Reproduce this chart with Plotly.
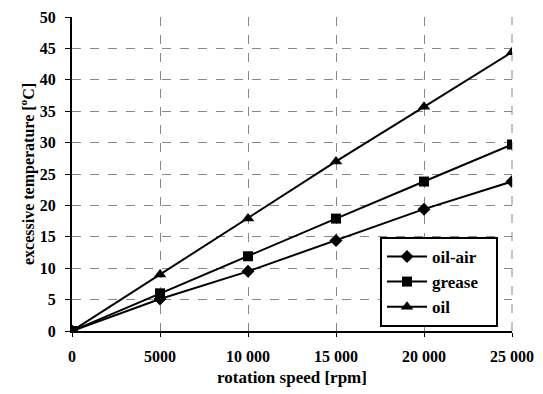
import plotly.graph_objects as go

speed = [0, 5000, 10000, 15000, 20000, 25000]
oil_air = [0, 5.1, 9.5, 14.4, 19.4, 23.8]
grease = [0, 6.0, 11.9, 17.9, 23.8, 29.7]
oil = [0, 9.0, 17.9, 27.0, 35.7, 44.4]
x_ticks = [0, 5000, 10000, 15000, 20000, 25000]
x_ticklabels = ["0", "5000", "10 000", "15 000", "20 000", "25 000"]
y_ticks = [0, 5, 10, 15, 20, 25, 30, 35, 40, 45, 50]

font = "Liberation Serif"
fig = go.Figure()
series = [("oil-air", oil_air, "diamond", 10), ("grease", grease, "square", 10), ("oil", oil, "triangle-up", 11)]
for name, ys, sym, sz in series:
    fig.add_trace(go.Scatter(
        x=speed, y=ys, name="<b>%s</b>&nbsp;&nbsp;&nbsp;" % name, mode="lines+markers",
        line=dict(color="black", width=2),
        marker=dict(symbol=sym, size=sz, color="black"),
    ))

fig.update_layout(
    width=543, height=394,
    margin=dict(l=72, r=31, t=17, b=63),
    paper_bgcolor="white", plot_bgcolor="white",
    font=dict(family=font, color="black"),
    showlegend=True,
    legend=dict(
        x=0.70, y=0.013, xanchor="left", yanchor="bottom",
        bgcolor="white", bordercolor="black", borderwidth=2,
        font=dict(family=font, size=17, color="black"),
        itemwidth=40, tracegroupgap=0,
    ),
    xaxis=dict(
        range=[0, 25000], tickvals=x_ticks, ticktext=["<b>%s</b>" % t for t in x_ticklabels],
        tickfont=dict(size=16), ticks="outside", ticklen=4, tickcolor="black",
        ticklabelstandoff=6,
        showline=True, linecolor="black", linewidth=2, mirror=False,
        showgrid=True, gridcolor="#888", griddash="dash", gridwidth=1,
        zeroline=False, automargin=False,
        title=dict(text="<b>rotation speed [rpm]</b>", font=dict(size=17), standoff=7),
    ),
    yaxis=dict(
        range=[0, 50], tickvals=y_ticks, ticktext=["<b>%d</b>" % t for t in y_ticks],
        tickfont=dict(size=16), ticks="outside", ticklen=5, tickcolor="black",
        ticklabelstandoff=6,
        showline=True, linecolor="black", linewidth=2,
        showgrid=True, gridcolor="#888", griddash="dash", gridwidth=1,
        zeroline=False, automargin=False,
        title=dict(text="<b>excessive temperature [<sup>o</sup>C]</b>", font=dict(size=16), standoff=1),
    ),
)
fig.add_shape(type="line", xref="paper", yref="paper", x0=1, x1=1, y0=0, y1=1,
              line=dict(color="#888", width=1, dash="dash"), layer="below")
fig.write_html("out.html", config={"displayModeBar": False},
               post_script="document.body.style.margin='0';document.body.style.overflow='hidden';")
